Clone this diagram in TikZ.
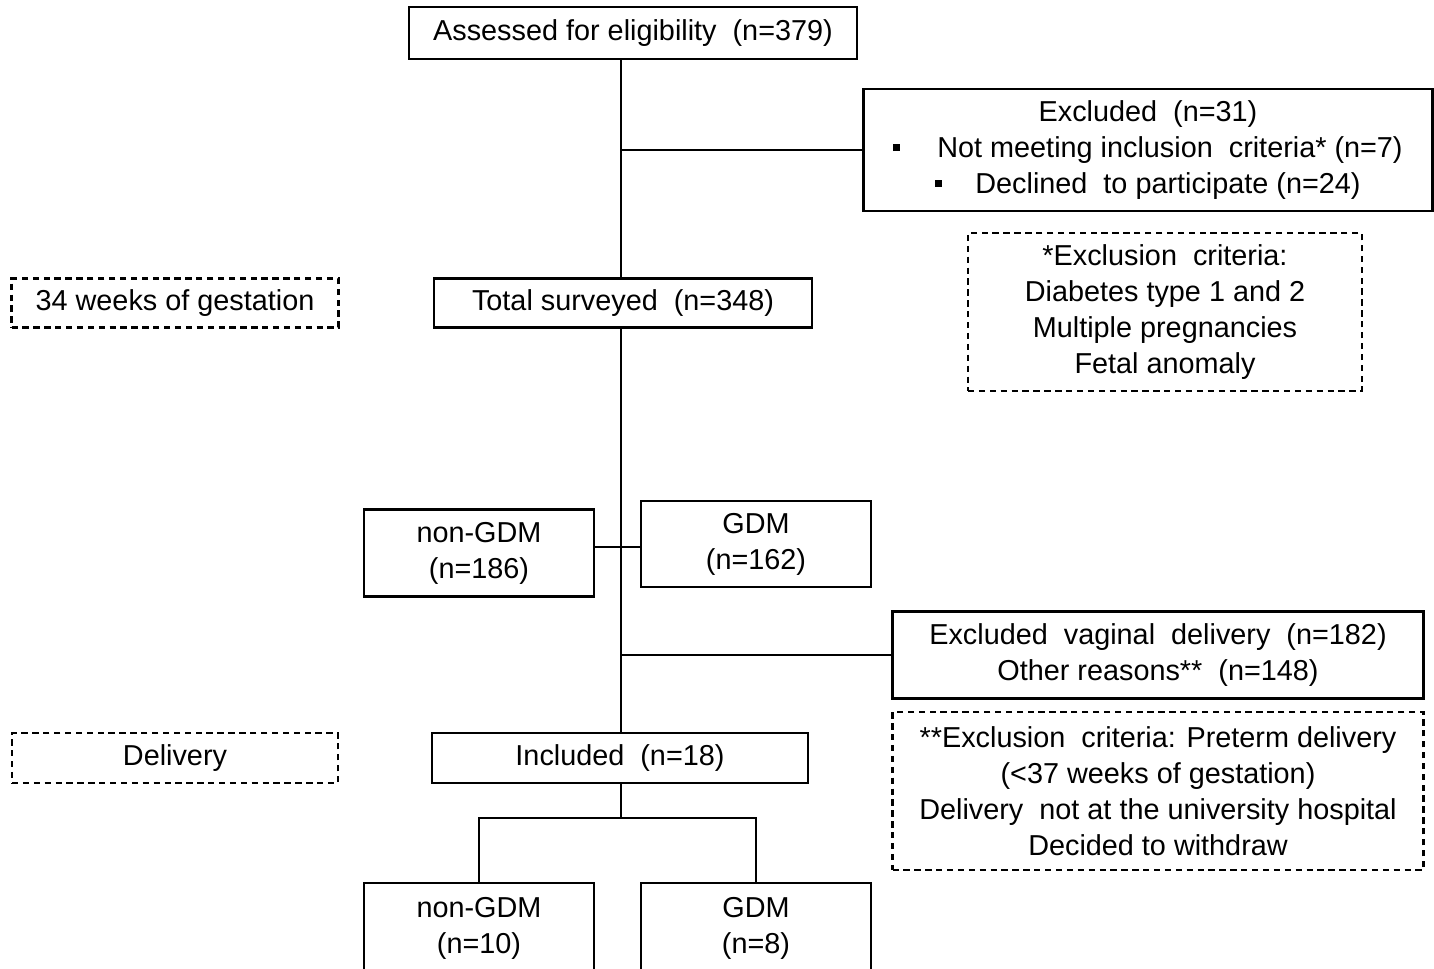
\documentclass[tikz,border=0pt]{standalone}
\usepackage{fontspec}
\setmainfont{Liberation Sans}
\usepackage{tikz}
\usetikzlibrary{positioning}

\newcommand{\sqbul}{\rule[0.22em]{0.7mm}{0.7mm}}

\begin{document}
\begin{tikzpicture}[x=0.1mm, y=-0.1mm,
    font=\fontsize{8.2}{10.2}\selectfont,
    line width=0.6pt,
    box/.style={draw, align=center, inner sep=0pt},
    note/.style={draw, dashed, dash pattern=on 1.8pt off 1.3pt, align=center, inner sep=0pt}]
    \useasboundingbox (0,0) rectangle (1434,968);
    % stage labels
    \node[note, minimum width=32.7mm, minimum height=4.9mm](wk34) at (175,303){34 weeks of gestation};
    \node[note, minimum width=32.6mm, minimum height=5mm](deliv) at (175,758){Delivery};
    % main column
    \node[box, minimum width=44.8mm, minimum height=5.2mm](assessed) at (633,33){Assessed for eligibility\ \ (n=379)};
    \node[box, minimum width=37.8mm, minimum height=4.9mm](total) at (623,303){Total surveyed\ \ (n=348)};
    \node[box, minimum width=23mm, minimum height=8.7mm](nongdm) at (479,553){non-GDM\\(n=186)};
    \node[box, minimum width=23mm, minimum height=8.6mm](gdm) at (756,544){GDM\\(n=162)};
    \node[box, minimum width=37.6mm, minimum height=5mm](incl) at (620,758){Included\ \ (n=18)};
    \node[box, minimum width=23mm, minimum height=9mm](nongdmb) at (479,928){non-GDM\\(n=10)};
    \node[box, minimum width=23mm, minimum height=9mm](gdmb) at (756,928){GDM\\(n=8)};
    % exclusions
    \node[box, minimum width=56.9mm, minimum height=12.2mm](excl) at (1148,150){Excluded\ \ (n=31)\\
        \sqbul\hspace{3.7mm}Not meeting inclusion\ \ criteria* (n=7)\\
        \sqbul\hspace{3.3mm}Declined\ \ to participate (n=24)};
    \node[note, minimum width=39.4mm, minimum height=15.8mm](crit) at (1165,312){*Exclusion\ \ criteria:\\Diabetes type 1 and 2\\Multiple pregnancies\\Fetal anomaly};
    \node[box, minimum width=53.1mm, minimum height=8.7mm](vag) at (1158,655){Excluded\ \ vaginal\ \ delivery\ \ (n=182)\\Other reasons**\ \ (n=148)};
    \node[note, minimum width=53.1mm, minimum height=15.8mm](crit2) at (1158,791){**Exclusion\ \ criteria: Preterm delivery\\(<37 weeks of gestation)\\Delivery\ \ not at the university hospital\\Decided to withdraw};
    % connectors
    \coordinate (spine) at (621,547);
    \coordinate (fork) at (621,818);
    \draw (assessed.south -| spine) -- (total.north -| spine);
    \draw (spine |- excl.west) -- (excl.west);
    \draw (total.south -| spine) -- (incl.north -| spine);
    \draw (nongdm.east |- spine) -- (gdm.west |- spine);
    \draw (spine |- vag.west) -- (vag.west);
    \draw (incl.south -| fork) -- (fork);
    \draw (nongdmb.north) |- (fork) -| (gdmb.north);
\end{tikzpicture}
\end{document}
